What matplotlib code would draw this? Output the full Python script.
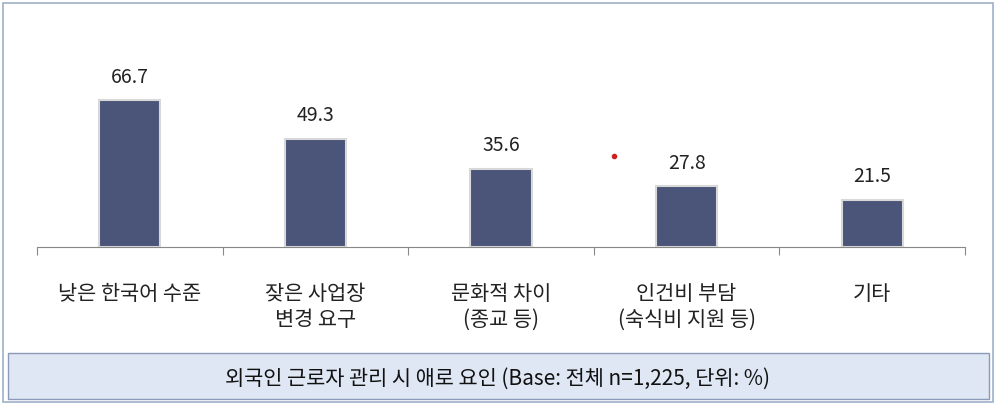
import matplotlib.pyplot as plt
from matplotlib.patches import Rectangle

plt.rcParams['font.family'] = ['Noto Sans CJK KR', 'DejaVu Sans']

categories = ['낮은 한국어 수준', '잦은 사업장\n변경 요구', '문화적 차이\n(종교 등)', '인건비 부담\n(숙식비 지원 등)', '기타']
values = [66.7, 49.3, 35.6, 27.8, 21.5]
caption = '외국인 근로자 관리 시 애로 요인 (Base: 전체 n=1,225, 단위: %)'

W, H = 997, 406
fig = plt.figure(figsize=(W/100, H/100), dpi=100)
fig.patch.set_facecolor('white')

# outer border and caption box
fig.patches.append(Rectangle((3/W, 3/H), (W-7)/W, (H-7)/H, transform=fig.transFigure,
                             fill=False, ec='#9fb0c8', lw=1.2))
fig.patches.append(Rectangle((8/W, 6/H), (W-16)/W, 46/H, transform=fig.transFigure,
                             fc='#dfe7f4', ec='#8a9ab8', lw=1.0))
fig.text(497/W, 27/H, caption, ha='center', va='center', fontsize=15, color='#111111')

ax = fig.add_axes([37/W, (H-248)/H, 928/W, 228/H])
ax.set_xlim(-0.5, 4.5)
ax.set_ylim(0, 228/2.2)
x = range(len(values))
ax.bar(x, values, width=0.33, color='#4a5579', edgecolor='#d8d8d8', linewidth=1.5)
for xi, v in zip(x, values):
    ax.text(xi, v + 6, f'{v:.1f}', ha='center', va='bottom', fontsize=14, color='#222222')
    ax.text(xi, -16, categories[xi], ha='center', va='top', fontsize=15,
            color='#222222', linespacing=1.2)

for s in ['top', 'right', 'left']:
    ax.spines[s].set_visible(False)
ax.spines['bottom'].set_color('#888888')
ax.set_yticks([])
ax.set_xticks([-0.5, 0.5, 1.5, 2.5, 3.5, 4.5])
ax.set_xticklabels([])
ax.tick_params(axis='x', direction='out', length=6, color='#888888')

# stray red dot in source image
ax.plot([2.61], [(248-157)/2.2], 'o', color='#cc2222', ms=3)

fig.savefig('out.png', dpi=100)
